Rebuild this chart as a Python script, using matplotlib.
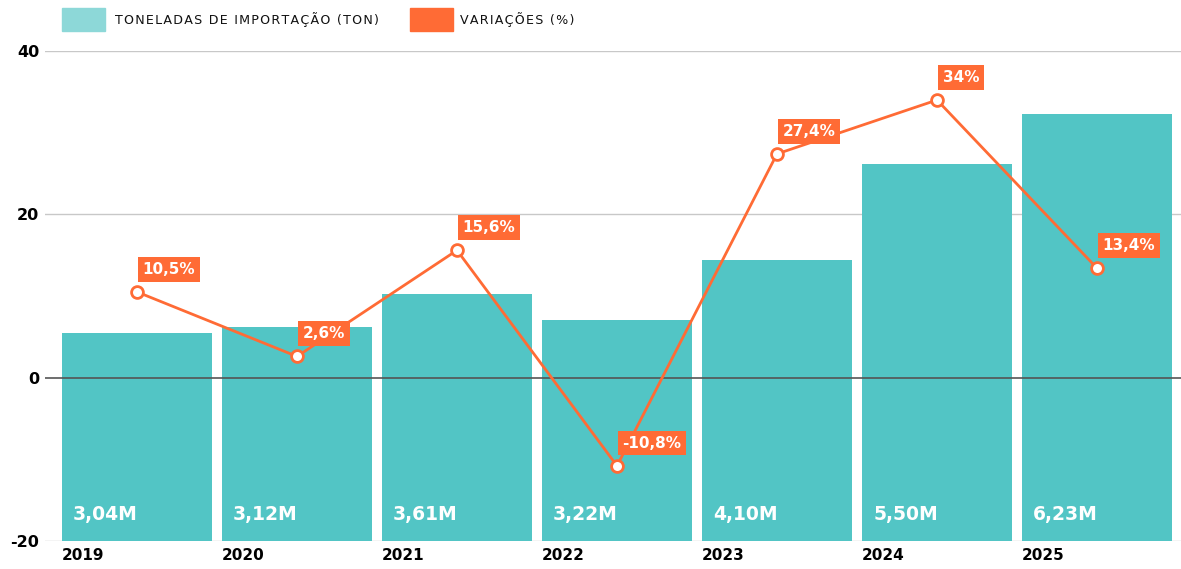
import matplotlib
matplotlib.use("Agg")
import matplotlib.pyplot as plt
from matplotlib.patches import Rectangle
from matplotlib.transforms import blended_transform_factory
import numpy as np

years = ["2019", "2020", "2021", "2022", "2023", "2024", "2025"]
tonnes_m = [3.04, 3.12, 3.61, 3.22, 4.10, 5.50, 6.23]
tonnes_labels = ["3,04M", "3,12M", "3,61M", "3,22M", "4,10M", "5,50M", "6,23M"]
variation = [10.5, 2.6, 15.6, -10.8, 27.4, 34.0, 13.4]
variation_labels = ["10,5%", "2,6%", "15,6%", "-10,8%", "27,4%", "34%", "13,4%"]
yticks = [-20, 0, 20, 40]
legend_labels = ["TONELADAS DE IMPORTAÇÃO (TON)", "VARIAÇÕES (%)"]

TEAL = "#52C5C5"
TEAL_LIGHT = "#8DD8D8"
ORANGE = "#FF6B35"

plt.rcParams['font.family'] = ['DejaVu Sans']

W, H = 1181, 569
fig = plt.figure(figsize=(W / 100, H / 100), dpi=100)
ax_l, ax_r, ax_b, ax_t = 45, 1181, 541, 51
ax = fig.add_axes([ax_l / W, 1 - ax_b / H, (ax_r - ax_l) / W, (ax_b - ax_t) / H])
ax2 = ax.twinx()
ax.set_zorder(ax2.get_zorder() + 1)
ax.patch.set_visible(False)

x = np.arange(len(years))
bw = 150 / 160
ax.set_xlim(-0.575, 6.525)
ax2.set_xlim(-0.575, 6.525)

# bars on secondary axis
ax2.bar(x, tonnes_m, width=bw, color=TEAL, zorder=2)
ax2.set_ylim(0, 7.15)
ax2.set_yticks([])
for s in ax2.spines.values():
    s.set_visible(False)

ax.set_ylim(-20, 40)
ax.set_yticks(yticks)
ax.set_yticklabels([str(t) for t in yticks], fontsize=11.5, fontweight='bold')
ax.tick_params(axis='y', length=0, pad=4)
for s in ax.spines.values():
    s.set_visible(False)

# light grid lines behind bars
ytr = blended_transform_factory(ax2.transAxes, ax.transData)
for t in yticks:
    if t != 0:
        ax2.plot([0, 1], [t, t], transform=ytr, color="#c8c8c8", lw=1, zorder=0)
# zero line above bars
ax.axhline(0, color="#555555", lw=1.2, zorder=1)

# x tick labels left-aligned at bar left
ax.set_xticks(x - bw / 2)
ax.set_xticklabels(years, fontsize=11, fontweight='bold', ha='left')
ax.tick_params(axis='x', length=0, pad=5)

# value labels inside bars
tr = blended_transform_factory(ax.transData, ax.transAxes)
for xi, lab in zip(x, tonnes_labels):
    ax.annotate(lab, xy=(xi - bw / 2, 0), xycoords=tr, xytext=(8, 19),
                textcoords='offset points', color='white', fontsize=13.5,
                fontweight='bold', ha='left', va='center', zorder=3)

# line
ax.plot(x, variation, color=ORANGE, lw=2, marker='o', markersize=8.5,
        markerfacecolor='white', markeredgecolor=ORANGE, markeredgewidth=2, zorder=4)
for xi, v, lab in zip(x, variation, variation_labels):
    ax.annotate(lab, xy=(xi, v), xytext=(4, 11), textcoords='offset points',
                ha='left', va='bottom', color='white', fontsize=11, fontweight='bold',
                bbox=dict(boxstyle='square,pad=0.32', fc=ORANGE, ec='none'), zorder=5)

# legend
def px_rect(x0, y0, w, h, color):
    fig.add_artist(Rectangle((x0 / W, 1 - (y0 + h) / H), w / W, h / H,
                             transform=fig.transFigure, color=color))

def spaced(s):
    return "\u200a".join(s)

px_rect(62, 8, 43, 23, TEAL_LIGHT)
fig.text(115 / W, 1 - 20 / H, spaced(legend_labels[0]), fontsize=9.1,
         ha='left', va='center', color='#111111')
px_rect(410, 8, 43, 23, ORANGE)
fig.text(460 / W, 1 - 20 / H, spaced(legend_labels[1]), fontsize=9.1,
         ha='left', va='center', color='#111111')

fig.savefig("out.png", dpi=100)
